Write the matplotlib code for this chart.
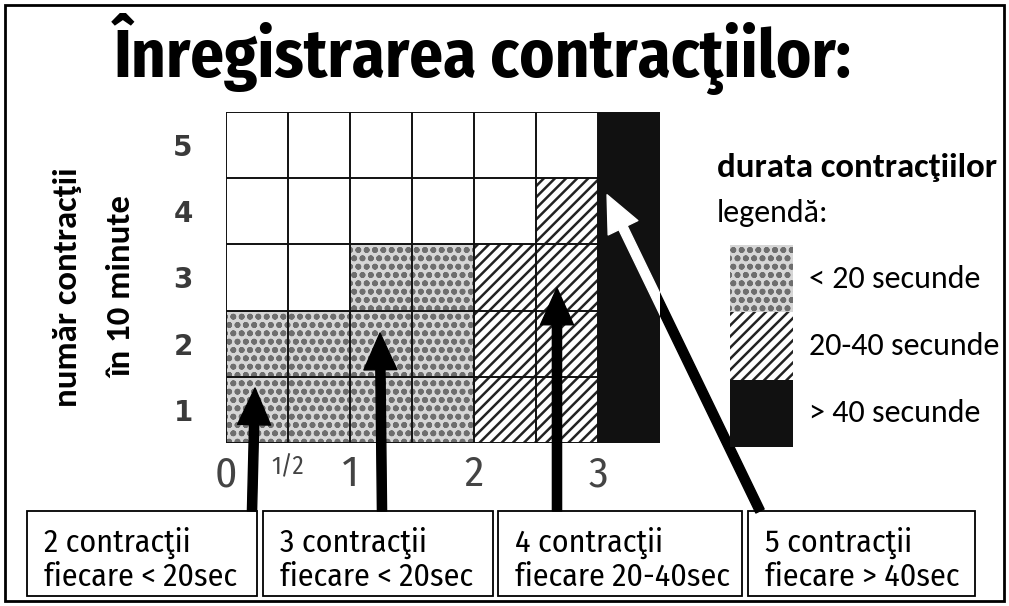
import matplotlib
matplotlib.use("Agg")
import matplotlib.pyplot as plt
from matplotlib.patches import Rectangle
import numpy as np

# half-hour columns: start (hours), contractions in 10 min, duration class
col_start = [0, 0.5, 1, 1.5, 2, 2.5, 3]
col_count = [2, 2, 3, 3, 3, 4, 5]
col_class = [0, 0, 0, 0, 1, 1, 2]

x_ticks = [0, 0.5, 1, 2, 3]
x_tick_labels = ['0', '1/2', '1', '2', '3']
y_tick_labels = ['1', '2', '3', '4', '5']

class_labels = ['< 20 secunde', '20-40 secunde', '> 40 secunde']

box_line1 = ['2 contracţii', '3 contracţii', '4 contracţii', '5 contracţii']
box_line2 = ['fiecare < 20sec', 'fiecare < 20sec', 'fiecare 20-40sec', 'fiecare > 40sec']
# cell each callout points at (hours, contractions)
arrow_targets = [(0.234, 0.83), (1.242, 1.66), (2.669, 2.34), (3.073, 3.75)]

W, H = 1009, 606
styles = [dict(facecolor='#d6d6d6', hatch='oo', edgecolor='#6e6e6e'),
          dict(facecolor='white', hatch='///', edgecolor='#222222'),
          dict(facecolor='#111111', hatch=None, edgecolor='#111111')]

plt.rcParams['hatch.linewidth'] = 1.8
cond = ['Fira Sans Condensed', 'Roboto Condensed', 'DejaVu Sans']
body = ['Carlito', 'Lato', 'Open Sans', 'DejaVu Sans']


def px_rect(x0, y0, x1, y1):
    return [x0 / W, 1 - y1 / H, (x1 - x0) / W, (y1 - y0) / H]


fig = plt.figure(figsize=(W / 100, H / 100), dpi=100)

# overlay in pixel coordinates for frame, title, callout boxes
ov = fig.add_axes([0, 0, 1, 1], zorder=0)
ov.set_xlim(0, W)
ov.set_ylim(H, 0)
ov.axis('off')
ov.add_patch(Rectangle((5, 5), W - 10, H - 10, fill=False, lw=2, ec='k'))
ov.text(483, 77, 'Înregistrarea contracţiilor:', ha='center', va='baseline',
        fontsize=48, fontweight='bold', family=cond)

# main grid chart
ax = fig.add_axes(px_rect(226, 112, 660, 443), zorder=2)
for k in range(3):
    idx = [i for i, c in enumerate(col_class) if c == k]
    ax.bar([col_start[i] for i in idx], [col_count[i] for i in idx], width=0.5,
           align='edge', lw=0, zorder=1, **styles[k])
ax.vlines(np.arange(0, 3.51, 0.5), 0, 5, color='#111111', lw=1.4, zorder=2)
ax.hlines(np.arange(0, 6), 0, 3.5, color='#111111', lw=1.4, zorder=2)
ax.set_xlim(0, 3.5)
ax.set_ylim(0, 5)
for s in ax.spines.values():
    s.set_visible(False)
ax.set_xticks(x_ticks)
ax.set_xticklabels(x_tick_labels, fontsize=31, color='#444444', family=cond)
ax.get_xticklabels()[1].set_fontsize(18)
ax.set_yticks(np.arange(5) + 0.5)
ax.set_yticklabels(y_tick_labels, fontsize=20, fontweight='bold', color='#3a3a3a')
ax.tick_params(length=0)
ax.tick_params(axis='x', pad=8)
ax.tick_params(axis='y', pad=24)

fig.text(68 / W, 1 - 287 / H, 'număr contracţii', rotation=90, ha='center',
         va='center', fontsize=25, fontweight='bold', family=body)
fig.text(122 / W, 1 - 287 / H, 'în 10 minute', rotation=90, ha='center',
         va='center', fontsize=25, fontweight='bold', family=body)

# callout boxes
box_x = [(27, 257), (263, 493), (498, 742), (748, 975)]
box_y = (511, 596)
starts = [(252, 511), (382, 511), (557, 511), (760, 511)]
for (x0, x1), l1, l2 in zip(box_x, box_line1, box_line2):
    ov.add_patch(Rectangle((x0, box_y[0]), x1 - x0, box_y[1] - box_y[0],
                           fill=True, fc='white', ec='k', lw=1.3))
    ov.text(x0 + 17, 552, l1, ha='left', va='baseline', fontsize=23, family=cond)
    ov.text(x0 + 17, 586, l2, ha='left', va='baseline', fontsize=23, family=cond)

arrow_style = 'simple,head_length=1.2,head_width=1.08,tail_width=0.3'
black_bar = ax.patches[-1]
for (tx, ty), (sx, sy) in zip(arrow_targets, starts):
    ax.annotate('', xy=(tx, ty), xytext=(sx, sy), textcoords=ov.transData,
                annotation_clip=False,
                arrowprops=dict(arrowstyle=arrow_style, mutation_scale=22,
                                color='k', shrinkA=0, shrinkB=0), zorder=5)
# last arrow turns white over the black column
last = ax.annotate('', xy=arrow_targets[-1], xytext=starts[-1],
                   textcoords=ov.transData, annotation_clip=False,
                   arrowprops=dict(arrowstyle=arrow_style, mutation_scale=22,
                                   color='white', shrinkA=0, shrinkB=0), zorder=6)
last.arrow_patch.set_clip_path(black_bar)

# legend
fig.text(717 / W, 1 - 177 / H, 'durata contracţiilor', ha='left', va='baseline',
         fontsize=25, fontweight='bold', family=body)
fig.text(717 / W, 1 - 222 / H, 'legendă:', ha='left', va='baseline',
         fontsize=23, family=body)
lax = fig.add_axes(px_rect(730, 245, 793, 447), zorder=2)
for k in range(3):
    lax.bar(0, 1, bottom=2 - k, width=1, align='edge', lw=0, **styles[k])
    lax.text(1.25, 2.5 - k, class_labels[k], ha='left', va='center',
             fontsize=23, family=body, clip_on=False)
lax.set_xlim(0, 1)
lax.set_ylim(0, 3)
lax.axis('off')

fig.savefig('out.png', dpi=100)
